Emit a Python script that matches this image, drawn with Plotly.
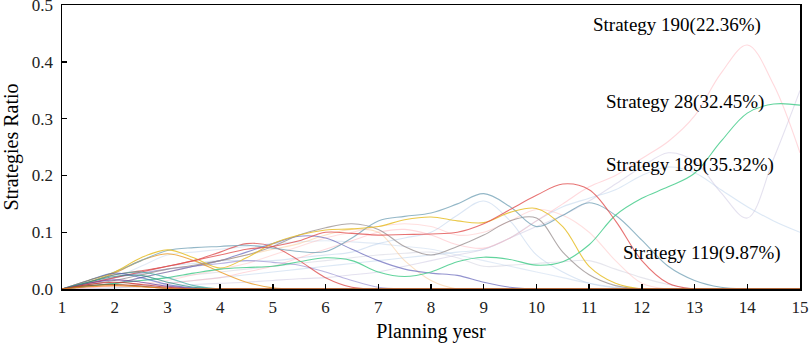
import plotly.graph_objects as go

years = [1, 1.5, 2, 2.5, 3, 3.5, 4, 4.5, 5, 5.5, 6, 6.5, 7, 7.5, 8, 8.5, 9, 9.5,
         10, 10.5, 11, 11.5, 12, 12.5, 13, 13.5, 14, 14.5, 15]

# main highlighted strategies
s119 = [0, .01, .02, .03, .04, .05, .06, .07, .075, .085, .1, .098, .095, .096, .097, .1, .115, .14,
        .165, .185, .175, .12, .05, .01, 0, 0, 0, 0, 0]
s28 = [0, .005, .01, .015, .02, .028, .035, .038, .04, .048, .055, .05, .03, .022, .03, .048, .056, .052,
       .042, .048, .078, .13, .16, .18, .204, .26, .31, .326, .324]
s190 = [0, .002, .005, .007, .01, .015, .02, .03, .04, .055, .07, .085, .1, .105, .095, .078, .072, .09,
        .12, .15, .18, .2, .23, .26, .305, .38, .43, .36, .24]
s189 = [0, 0, .002, .004, .006, .008, .01, .012, .015, .018, .02, .025, .03, .04, .05, .06, .07, .09,
        .11, .13, .155, .185, .215, .24, .225, .17, .125, .23, .35]

# other strategies
light_blue_a = [0, 0, .002, .005, .01, .015, .02, .025, .03, .035, .04, .045, .05, .055, .06, .065, .07, .09,
                .12, .145, .16, .175, .2, .215, .205, .175, .145, .12, .1]
steel = [0, .015, .03, .05, .068, .073, .075, .077, .072, .066, .066, .09, .12, .128, .134, .15, .168, .145,
         .11, .13, .152, .13, .086, .04, .015, .003, 0, 0, 0]
light_blue_b = [0, .01, .02, .03, .04, .045, .05, .05, .05, .055, .06, .065, .08, .09, .1, .13, .155, .12,
                .06, .03, .01, .002, 0, 0, 0, 0, 0, 0, 0]
yellow = [0, .015, .03, .055, .069, .055, .037, .055, .08, .095, .104, .106, .11, .122, .127, .12, .117, .135,
          .142, .11, .04, .01, 0, 0, 0, 0, 0, 0, 0]
orange = [0, .012, .028, .05, .062, .05, .03, .012, .002, 0, 0, 0, 0, 0, 0, 0, 0, 0,
          0, 0, 0, 0, 0, 0, 0, 0, 0, 0, 0]
grey = [0, .008, .015, .025, .035, .042, .05, .06, .075, .095, .108, .115, .105, .075, .06, .075, .095, .12,
        .125, .065, .025, .006, 0, 0, 0, 0, 0, 0, 0]
red2 = [0, .012, .025, .032, .04, .05, .065, .08, .075, .05, .02, .003, 0, 0, 0, 0, 0, 0,
        0, 0, 0, 0, 0, 0, 0, 0, 0, 0, 0]
purple = [0, .005, .01, .02, .03, .04, .05, .065, .08, .093, .09, .07, .05, .035, .028, .024, .012, .003,
          0, 0, 0, 0, 0, 0, 0, 0, 0, 0, 0]
purple2 = [0, .01, .02, .028, .035, .04, .045, .05, .047, .042, .03, .015, .003, 0, 0, 0, 0, 0,
           0, 0, 0, 0, 0, 0, 0, 0, 0, 0, 0]
peach = [0, .005, .01, .02, .03, .04, .05, .06, .07, .08, .095, .105, .1, .05, .015, 0, 0, 0,
         0, 0, 0, 0, 0, 0, 0, 0, 0, 0, 0]
pink2 = [0, .003, .006, .01, .015, .025, .035, .045, .06, .075, .09, .1, .11, .115, .11, .095, .1, .12,
         .14, .13, .1, .05, .01, 0, 0, 0, 0, 0, 0]
light_blue_c = [0, .01, .02, .04, .06, .065, .07, .075, .08, .083, .085, .083, .08, .075, .07, .06, .05, .04,
                .03, .02, .01, .003, 0, 0, 0, 0, 0, 0, 0]
light_grey = [0, .005, .01, .015, .02, .025, .03, .035, .04, .045, .05, .055, .06, .063, .065, .055, .04, .042,
              .045, .048, .05, .035, .02, .008, 0, 0, 0, 0, 0]
teal_e = [0, .012, .022, .024, .012, .003, 0, 0, 0, 0, 0, 0, 0, 0, 0, 0, 0, 0,
          0, 0, 0, 0, 0, 0, 0, 0, 0, 0, 0]
red_e = [0, .008, .012, .008, .003, 0, 0, 0, 0, 0, 0, 0, 0, 0, 0, 0, 0, 0,
         0, 0, 0, 0, 0, 0, 0, 0, 0, 0, 0]
brown_e = [0, .006, .008, .005, .001, 0, 0, 0, 0, 0, 0, 0, 0, 0, 0, 0, 0, 0,
           0, 0, 0, 0, 0, 0, 0, 0, 0, 0, 0]
orange_e = [0, .004, .006, .004, .001, 0, 0, 0, 0, 0, 0, 0, 0, 0, 0, 0, 0, 0,
            0, 0, 0, 0, 0, 0, 0, 0, 0, 0, 0]
purple_e = [0, .01, .016, .012, .005, .001, 0, 0, 0, 0, 0, 0, 0, 0, 0, 0, 0, 0,
            0, 0, 0, 0, 0, 0, 0, 0, 0, 0, 0]
blue_e = [0, .015, .028, .02, .008, .002, 0, 0, 0, 0, 0, 0, 0, 0, 0, 0, 0, 0,
          0, 0, 0, 0, 0, 0, 0, 0, 0, 0, 0]
lteal_e = [0, .012, .025, .03, .02, .006, 0, 0, 0, 0, 0, 0, 0, 0, 0, 0, 0, 0,
           0, 0, 0, 0, 0, 0, 0, 0, 0, 0, 0]

x_ticks = list(range(1, 16))
y_ticks = [0, 0.1, 0.2, 0.3, 0.4, 0.5]
y_tick_text = ["0.0", "0.1", "0.2", "0.3", "0.4", "0.5"]

labels = ["Strategy 190(22.36%)", "Strategy 28(32.45%)", "Strategy 189(35.32%)", "Strategy 119(9.87%)"]
label_x = [12.67, 12.82, 12.92, 13.14]
label_y = [0.465, 0.329, 0.218, 0.063]

series = [
    (light_grey, "rgba(200,200,215,0.45)"),
    (light_blue_c, "rgba(190,210,235,0.45)"),
    (pink2, "rgba(255,185,185,0.45)"),
    (peach, "rgba(250,195,140,0.5)"),
    (light_blue_b, "rgba(175,200,230,0.45)"),
    (light_blue_a, "rgba(185,210,235,0.5)"),
    (s189, "rgba(205,200,225,0.55)"),
    (s190, "rgba(255,170,180,0.45)"),
    (purple2, "rgba(130,120,200,0.55)"),
    (purple, "rgba(100,100,185,0.7)"),
    (red2, "rgba(220,70,70,0.75)"),
    (orange, "rgba(235,160,50,0.85)"),
    (grey, "rgba(150,140,140,0.75)"),
    (steel, "rgba(120,165,185,0.8)"),
    (yellow, "rgba(230,190,40,0.85)"),
    (s28, "rgba(70,205,140,0.85)"),
    (s119, "rgba(225,80,80,0.8)"),
    (lteal_e, "rgba(60,170,160,0.7)"),
    (blue_e, "rgba(70,90,190,0.6)"),
    (purple_e, "rgba(110,60,150,0.7)"),
    (teal_e, "rgba(40,140,130,0.7)"),
    (red_e, "rgba(200,50,50,0.8)"),
    (brown_e, "rgba(140,80,40,0.8)"),
    (orange_e, "rgba(240,130,30,0.8)"),
]

fig = go.Figure()
for vals, col in series:
    fig.add_trace(go.Scatter(x=years, y=vals, mode="lines",
                             line=dict(color=col, width=1.1, shape="spline", smoothing=1.0),
                             hoverinfo="skip"))

for t, ax, ay in zip(labels, label_x, label_y):
    fig.add_annotation(x=ax, y=ay, text=t, showarrow=False,
                       font=dict(family="Liberation Serif", size=19, color="black"))

axis_common = dict(showgrid=False, zeroline=False, showline=True, linecolor="black", linewidth=1.5,
                   mirror=True, ticks="inside", ticklen=5, tickcolor="black", tickwidth=1.3,
                   automargin=False, ticklabeloverflow="allow",
                   tickfont=dict(family="Liberation Serif", size=17, color="#222"))

fig.update_layout(
    width=809, height=343,
    margin=dict(l=62, r=9, t=5, b=54),
    plot_bgcolor="white", paper_bgcolor="white",
    showlegend=False,
    font=dict(family="Liberation Serif", color="black"),
    xaxis=dict(range=[1, 15], tickvals=x_ticks, ticklabelstandoff=2,
               title=dict(text="Planning yesr", font=dict(family="Liberation Serif", size=20), standoff=8),
               **axis_common),
    yaxis=dict(range=[0, 0.5005], tickvals=y_ticks, ticktext=y_tick_text, ticklabelstandoff=4,
               title=dict(text="Strategies Ratio", font=dict(family="Liberation Serif", size=20), standoff=10),
               **axis_common),
)

fig.write_html("out.html", config={"displayModeBar": False, "staticPlot": True})
with open("out.html", "r", encoding="utf-8") as f:
    html = f.read()
html = html.replace("<body>", '<body style="margin:0;overflow:hidden">', 1)
with open("out.html", "w", encoding="utf-8") as f:
    f.write(html)
